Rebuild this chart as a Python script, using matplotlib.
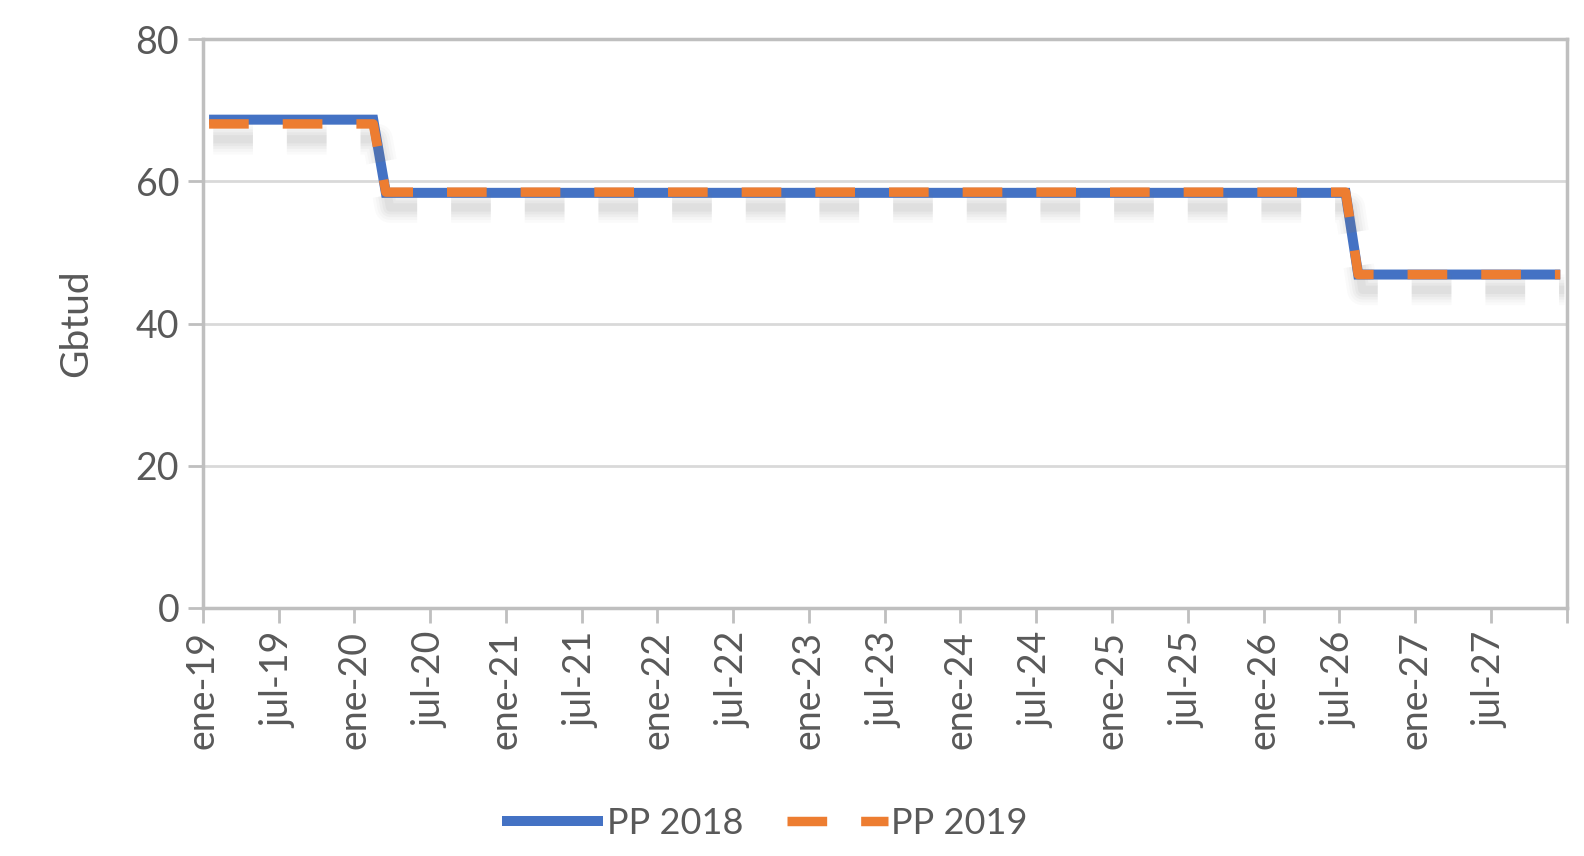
import numpy as np
import pandas as pd
import matplotlib
matplotlib.use("Agg")
import matplotlib.pyplot as plt
import matplotlib.patheffects as pe

# monthly series, ene-19 .. dic-27 (step levels)
months = pd.date_range("2019-01-01", periods=108, freq="MS")
pp2018 = [68.7] * 14 + [58.4] * 77 + [46.9] * 17
pp2019 = [68.1] * 14 + [58.5] * 77 + [46.9] * 17
mes = {1: "ene", 7: "jul"}

plt.rcParams["font.family"] = ["Lato", "DejaVu Sans"]
grey_txt = "#595959"

fig = plt.figure(figsize=(15.84, 8.56), dpi=100)
ax = fig.add_axes([0.128, 0.290, 0.861, 0.664])

x = np.arange(len(months)) + 0.5

ax.plot(x, pp2018, color="#4472C4", lw=7.2, solid_capstyle="butt",
        solid_joinstyle="miter", label="PP 2018", zorder=3)
# soft drop shadow under the dashed line (fake blur with stacked layers)
shadow = []
for w, a in [(22, 0.035), (18, 0.04), (14, 0.05), (10, 0.06), (6, 0.07)]:
    shadow.append(pe.SimpleLineShadow(offset=(3, -11), shadow_color="#7f7f7f", alpha=a, linewidth=w))
ax.plot(x, pp2019, color="#ED7D31", lw=6.8, ls=(0, (4.2, 3.6)), dash_capstyle="butt",
        label="PP 2019", zorder=4, path_effects=shadow + [pe.Normal()])

ax.set_xlim(0, len(months))
ax.set_ylim(0, 80)

ticks = [i for i, m in enumerate(months) if m.month in (1, 7)]
labels = ["%s-%s" % (mes[months[i].month], months[i].strftime("%y")) for i in ticks]
ax.set_xticks(ticks + [len(months)])
ax.set_xticklabels(labels + [""], rotation=90, fontsize=27, color=grey_txt)
ax.set_yticks([0, 20, 40, 60, 80])
ax.set_yticklabels(["0", "20", "40", "60", "80"], fontsize=27, color=grey_txt)
ax.tick_params(axis="both", length=11, width=2, color="#BFBFBF", pad=6)

ax.grid(axis="y", color="#D9D9D9", lw=2)
ax.set_axisbelow(True)
for s in ax.spines.values():
    s.set_color("#BFBFBF")
    s.set_linewidth(2.5)

ax.set_ylabel("Gbtud", fontsize=28, color=grey_txt, labelpad=30)

leg = fig.legend(loc="center", bbox_to_anchor=(0.483, 0.038), ncol=2, frameon=False,
                 fontsize=26, handlelength=2.8, handletextpad=0.1, columnspacing=1.2)
for t in leg.get_texts():
    t.set_color(grey_txt)
for h in leg.legend_handles:
    h.set_path_effects([pe.Normal()])

fig.savefig("out.png", dpi=100)
